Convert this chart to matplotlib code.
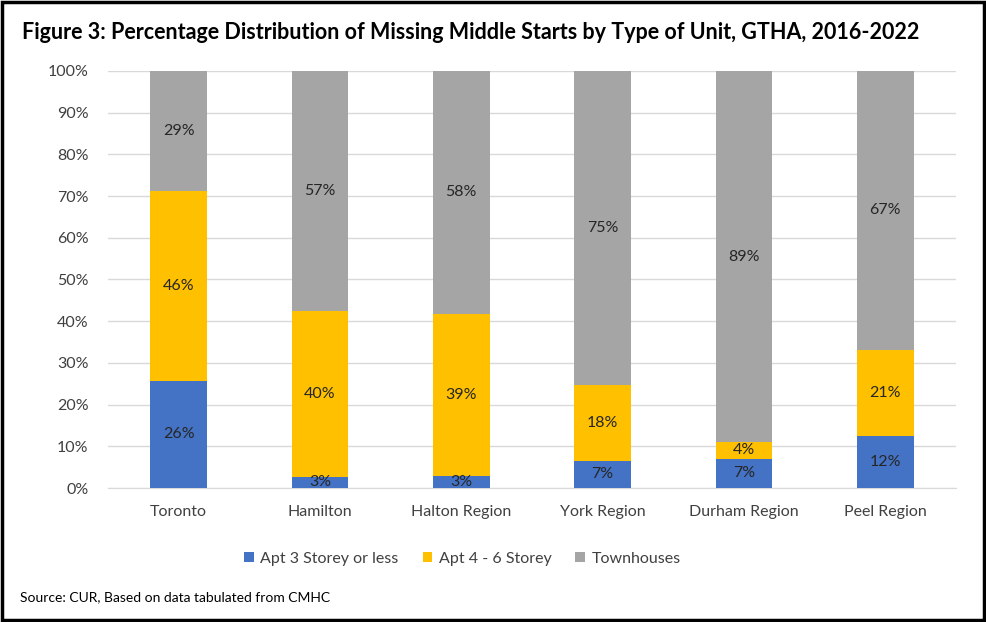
import matplotlib.pyplot as plt
from matplotlib.patches import Rectangle
import numpy as np

plt.rcParams['font.family'] = ['Lato', 'DejaVu Sans']

regions = ['Toronto', 'Hamilton', 'Halton Region', 'York Region', 'Durham Region', 'Peel Region']
apt_3 = [25.7, 2.7, 3.0, 6.5, 7.0, 12.4]
apt_4_6 = [45.5, 39.8, 38.8, 18.2, 4.0, 20.8]
townhouses = [28.8, 57.5, 58.2, 75.3, 89.0, 66.8]
labels_3 = ['26%', '3%', '3%', '7%', '7%', '12%']
labels_4_6 = ['46%', '40%', '39%', '18%', '4%', '21%']
labels_town = ['29%', '57%', '58%', '75%', '89%', '67%']

fig = plt.figure(figsize=(9.86, 6.22), dpi=100)
ax = fig.add_axes([0.1095, 0.2154, 0.86, 0.6705])

x = np.arange(len(regions))
w = 0.4
b1 = ax.bar(x, apt_3, w, color='#4472C4', label='Apt 3 Storey or less', zorder=3)
b2 = ax.bar(x, apt_4_6, w, bottom=apt_3, color='#FFC000', label='Apt 4 - 6 Storey', zorder=3)
bottom3 = np.array(apt_3) + np.array(apt_4_6)
b3 = ax.bar(x, townhouses, w, bottom=bottom3, color='#A5A5A5', label='Townhouses', zorder=3)

for bars, labs in [(b1, labels_3), (b2, labels_4_6), (b3, labels_town)]:
    ax.bar_label(bars, labels=labs, label_type='center', fontsize=11.5, color='#262626')

ax.set_ylim(0, 100)
ax.set_xlim(-0.5, len(regions) - 0.5)
ax.set_yticks(range(0, 101, 10))
ax.set_yticklabels([f'{v}%' for v in range(0, 101, 10)])
ax.set_xticks(x)
ax.set_xticklabels(regions)
ax.tick_params(axis='both', length=0, labelsize=11.5, labelcolor='#404040')
ax.tick_params(axis='x', pad=12)
ax.tick_params(axis='y', pad=14)
ax.grid(axis='y', color='#D9D9D9', linewidth=1, zorder=0)
for s in ['top', 'right', 'left']:
    ax.spines[s].set_visible(False)
ax.spines['bottom'].set_color('#D9D9D9')

fig.legend(handles=[b1, b2, b3], loc='center', bbox_to_anchor=(0.469, 0.102), ncol=3,
           frameon=False, fontsize=11.5, handlelength=0.6, handleheight=0.6,
           columnspacing=1.5, handletextpad=0.4, labelcolor='#404040')

fig.text(0.022, 0.947, 'Figure 3: Percentage Distribution of Missing Middle Starts by Type of Unit, GTHA, 2016-2022',
         fontsize=15.5, fontweight='bold', va='center', ha='left')
fig.text(0.02, 0.04, 'Source: CUR, Based on data tabulated from CMHC', fontsize=10, va='center', ha='left')

fig.patches.append(Rectangle((0.002, 0.003), 0.996, 0.994, transform=fig.transFigure,
                             fill=False, edgecolor='black', linewidth=2.5))

fig.savefig('out.png', dpi=100)
